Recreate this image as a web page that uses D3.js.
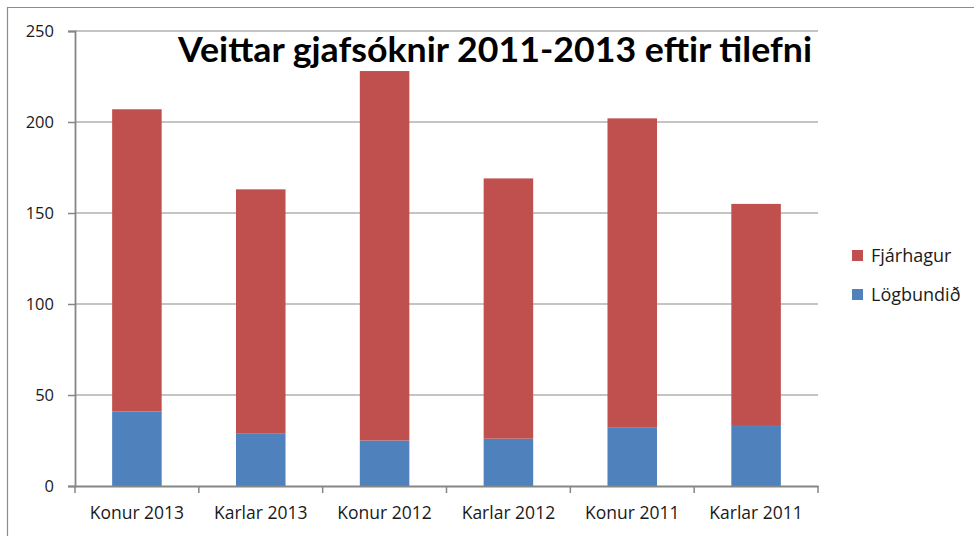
<!DOCTYPE html>
<html><head><meta charset="utf-8">
<script src="https://cdn.jsdelivr.net/npm/d3@7"></script>
<style>html,body{margin:0;padding:0;background:#fff;}svg{display:block;}</style>
</head><body><svg id="c" width="974" height="536"></svg>
<script>
const categories = ["Konur 2013","Karlar 2013","Konur 2012","Karlar 2012","Konur 2011","Karlar 2011"];
const logbundid = [41,29,25,26,32,33];
const totals = [207,163,228,169,202,155];
const fjarhagur = totals.map((t,i)=>t-logbundid[i]);
const yTicks = [0,50,100,150,200,250];
const seriesNames = ["Fjárhagur","Lögbundið"];
const colors = {"Fjárhagur":"#C0504D","Lögbundið":"#4F81BD"};
const title = "Veittar gjafsóknir 2011-2013 eftir tilefni";

const svg = d3.select("#c");
const font = "'Open Sans', Lato, sans-serif";
const L=75,R=818,T=31,B=486;
const x = d3.scaleBand().domain(categories).range([L,R]).padding(0);
const y = d3.scaleLinear().domain([0,250]).range([B,T]);

// outer frame
svg.append("line").attr("x1",7).attr("x2",974).attr("y1",7.5).attr("y2",7.5).attr("stroke","#8c8c8c").attr("stroke-width",1.2);
svg.append("line").attr("x1",7.5).attr("x2",7.5).attr("y1",7).attr("y2",536).attr("stroke","#8c8c8c").attr("stroke-width",1.2);

// gridlines
svg.append("g").selectAll("line").data(yTicks.filter(d=>d>0)).join("line")
  .attr("x1",L).attr("x2",R).attr("y1",d=>y(d)).attr("y2",d=>y(d))
  .attr("stroke","#8a8a8a").attr("stroke-width",1.2);

// stacked bars
const data = categories.map((c,i)=>({cat:c,"Lögbundið":logbundid[i],"Fjárhagur":fjarhagur[i]}));
const stack = d3.stack().keys(["Lögbundið","Fjárhagur"])(data);
const bw = x.bandwidth()*0.4;
svg.append("g").selectAll("g").data(stack).join("g").attr("fill",d=>colors[d.key])
  .selectAll("rect").data(d=>d).join("rect")
  .attr("x",d=>x(d.data.cat)+(x.bandwidth()-bw)/2).attr("width",bw)
  .attr("y",d=>y(d[1])).attr("height",d=>y(d[0])-y(d[1]));

// y axis
const yAxis = d3.axisLeft(y).tickValues(yTicks).tickSize(7).tickPadding(14);
const gy = svg.append("g").attr("transform",`translate(${L},0)`).call(yAxis);
gy.select(".domain").attr("stroke","#868686").attr("stroke-width",1.8);
gy.selectAll(".tick line").attr("stroke","#868686").attr("stroke-width",1.5);
gy.selectAll(".tick text").attr("font-family",font).attr("font-size",16.5).attr("fill","#1a1a1a");

// x axis
const xAxis = d3.axisBottom(x).tickSize(0).tickPadding(21);
const gx = svg.append("g").attr("transform",`translate(0,${B})`).call(xAxis);
gx.select(".domain").attr("stroke","#868686").attr("stroke-width",1.8);
gx.selectAll(".tick text").attr("font-family",font).attr("font-size",17.5).attr("fill","#1a1a1a");
const bounds = categories.map(c=>x(c)).concat([R]);
gx.selectAll(".bt").data(bounds).join("line").attr("class","bt")
  .attr("x1",d=>d).attr("x2",d=>d).attr("y1",0).attr("y2",7)
  .attr("stroke","#868686").attr("stroke-width",1.5);

// title
svg.append("text").attr("x",178).attr("y",62).attr("font-family","Lato, 'Open Sans', sans-serif").attr("font-weight","bold")
  .attr("font-size",35).attr("fill","#000").attr("textLength",634).attr("lengthAdjust","spacingAndGlyphs").text(title);

// legend
const lg = svg.append("g").selectAll("g").data(seriesNames).join("g")
  .attr("transform",(d,i)=>`translate(852,${250+i*39})`);
lg.append("rect").attr("width",11).attr("height",11).attr("fill",d=>colors[d]);
lg.append("text").attr("x",19).attr("y",11.5).attr("font-family",font).attr("font-size",18).attr("fill","#1a1a1a").text(d=>d);
</script></body></html>
